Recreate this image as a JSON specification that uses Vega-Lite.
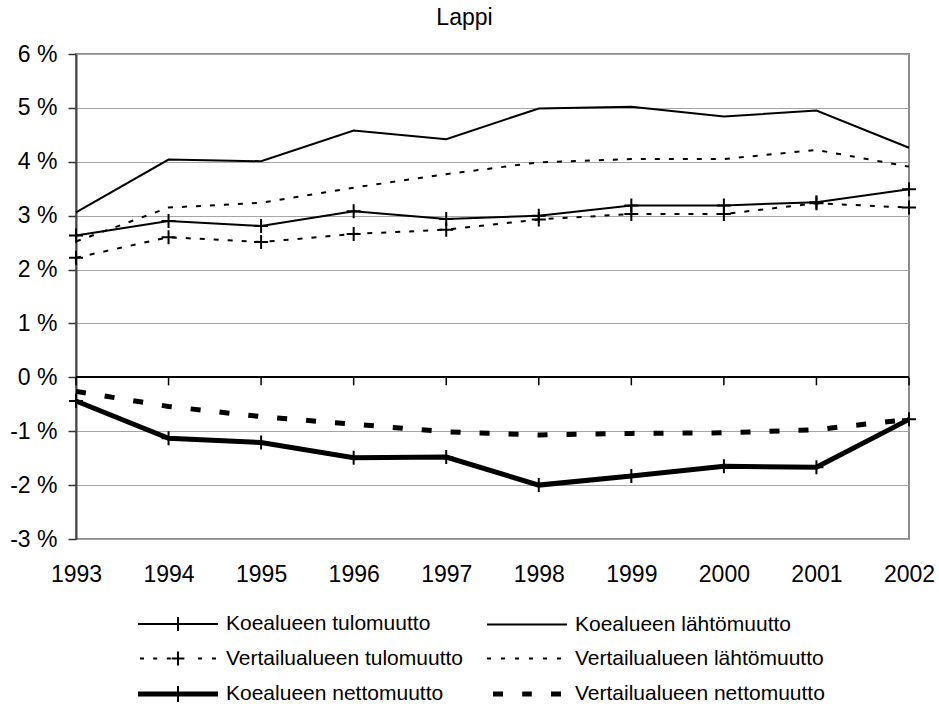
{
  "$schema": "https://vega.github.io/schema/vega-lite/v6.json",
  "width": 833,
  "height": 485,
  "autosize": {"type": "none"},
  "padding": {"left": 76, "top": 54, "right": 30, "bottom": 165},
  "background": "white",
  "title": {"text": "Lappi", "fontSize": 23, "font": "Liberation Sans", "fontWeight": "normal", "color": "black", "anchor": "middle", "dx": -28, "offset": 13},
  "config": {"view": {"stroke": "#8c8c8c", "strokeWidth": 2}, "font": "Liberation Sans"},
  "data": {"values": [
    {"year": 1993, "series": "Koealueen tulomuutto", "value": 2.63},
    {"year": 1994, "series": "Koealueen tulomuutto", "value": 2.90},
    {"year": 1995, "series": "Koealueen tulomuutto", "value": 2.81},
    {"year": 1996, "series": "Koealueen tulomuutto", "value": 3.08},
    {"year": 1997, "series": "Koealueen tulomuutto", "value": 2.94},
    {"year": 1998, "series": "Koealueen tulomuutto", "value": 3.00},
    {"year": 1999, "series": "Koealueen tulomuutto", "value": 3.19},
    {"year": 2000, "series": "Koealueen tulomuutto", "value": 3.19},
    {"year": 2001, "series": "Koealueen tulomuutto", "value": 3.25},
    {"year": 2002, "series": "Koealueen tulomuutto", "value": 3.49},
    {"year": 1993, "series": "Koealueen lähtömuutto", "value": 3.06},
    {"year": 1994, "series": "Koealueen lähtömuutto", "value": 4.04},
    {"year": 1995, "series": "Koealueen lähtömuutto", "value": 4.01},
    {"year": 1996, "series": "Koealueen lähtömuutto", "value": 4.58},
    {"year": 1997, "series": "Koealueen lähtömuutto", "value": 4.42},
    {"year": 1998, "series": "Koealueen lähtömuutto", "value": 4.99},
    {"year": 1999, "series": "Koealueen lähtömuutto", "value": 5.02},
    {"year": 2000, "series": "Koealueen lähtömuutto", "value": 4.84},
    {"year": 2001, "series": "Koealueen lähtömuutto", "value": 4.95},
    {"year": 2002, "series": "Koealueen lähtömuutto", "value": 4.26},
    {"year": 1993, "series": "Vertailualueen tulomuutto", "value": 2.22},
    {"year": 1994, "series": "Vertailualueen tulomuutto", "value": 2.60},
    {"year": 1995, "series": "Vertailualueen tulomuutto", "value": 2.51},
    {"year": 1996, "series": "Vertailualueen tulomuutto", "value": 2.66},
    {"year": 1997, "series": "Vertailualueen tulomuutto", "value": 2.74},
    {"year": 1998, "series": "Vertailualueen tulomuutto", "value": 2.93},
    {"year": 1999, "series": "Vertailualueen tulomuutto", "value": 3.03},
    {"year": 2000, "series": "Vertailualueen tulomuutto", "value": 3.03},
    {"year": 2001, "series": "Vertailualueen tulomuutto", "value": 3.23},
    {"year": 2002, "series": "Vertailualueen tulomuutto", "value": 3.15},
    {"year": 1993, "series": "Vertailualueen lähtömuutto", "value": 2.52},
    {"year": 1994, "series": "Vertailualueen lähtömuutto", "value": 3.15},
    {"year": 1995, "series": "Vertailualueen lähtömuutto", "value": 3.24},
    {"year": 1996, "series": "Vertailualueen lähtömuutto", "value": 3.52},
    {"year": 1997, "series": "Vertailualueen lähtömuutto", "value": 3.77},
    {"year": 1998, "series": "Vertailualueen lähtömuutto", "value": 3.99},
    {"year": 1999, "series": "Vertailualueen lähtömuutto", "value": 4.05},
    {"year": 2000, "series": "Vertailualueen lähtömuutto", "value": 4.05},
    {"year": 2001, "series": "Vertailualueen lähtömuutto", "value": 4.22},
    {"year": 2002, "series": "Vertailualueen lähtömuutto", "value": 3.91},
    {"year": 1993, "series": "Koealueen nettomuutto", "value": -0.44},
    {"year": 1994, "series": "Koealueen nettomuutto", "value": -1.13},
    {"year": 1995, "series": "Koealueen nettomuutto", "value": -1.21},
    {"year": 1996, "series": "Koealueen nettomuutto", "value": -1.49},
    {"year": 1997, "series": "Koealueen nettomuutto", "value": -1.48},
    {"year": 1998, "series": "Koealueen nettomuutto", "value": -2.00},
    {"year": 1999, "series": "Koealueen nettomuutto", "value": -1.83},
    {"year": 2000, "series": "Koealueen nettomuutto", "value": -1.65},
    {"year": 2001, "series": "Koealueen nettomuutto", "value": -1.67},
    {"year": 2002, "series": "Koealueen nettomuutto", "value": -0.78},
    {"year": 1993, "series": "Vertailualueen nettomuutto", "value": -0.26},
    {"year": 1994, "series": "Vertailualueen nettomuutto", "value": -0.54},
    {"year": 1995, "series": "Vertailualueen nettomuutto", "value": -0.73},
    {"year": 1996, "series": "Vertailualueen nettomuutto", "value": -0.87},
    {"year": 1997, "series": "Vertailualueen nettomuutto", "value": -1.01},
    {"year": 1998, "series": "Vertailualueen nettomuutto", "value": -1.07},
    {"year": 1999, "series": "Vertailualueen nettomuutto", "value": -1.04},
    {"year": 2000, "series": "Vertailualueen nettomuutto", "value": -1.03},
    {"year": 2001, "series": "Vertailualueen nettomuutto", "value": -0.97},
    {"year": 2002, "series": "Vertailualueen nettomuutto", "value": -0.78}
  ]},
  "layer": [
    {
      "mark": {"type": "line", "color": "black", "strokeWidth": 2},
      "transform": [{"filter": {"field": "series", "oneOf": ["Koealueen tulomuutto", "Koealueen lähtömuutto"]}}],
      "encoding": {
        "x": {"field": "year", "type": "quantitative", "scale": {"domain": [1993, 2002], "nice": false, "zero": false},
          "axis": {"values": [1993, 1994, 1995, 1996, 1997, 1998, 1999, 2000, 2001, 2002], "format": "d", "ticks": false, "domain": false, "grid": false, "labelFontSize": 23, "labelColor": "black", "labelPadding": 24, "title": null, "labelFlush": false, "labelOverlap": false, "labelBound": false}},
        "y": {"field": "value", "type": "quantitative", "scale": {"domain": [-3, 6], "nice": false, "zero": false},
          "axis": {"values": [-3, -2, -1, 0, 1, 2, 3, 4, 5, 6], "labelExpr": "datum.value + ' %'", "title": null, "tickSize": 8, "tickColor": "#333333", "tickWidth": 1.5, "domainColor": "#444444", "domainWidth": 2, "gridColor": "#a6a6a6", "gridWidth": 1, "labelFontSize": 23, "labelPadding": 11, "labelColor": "black", "labelOverlap": false}},
        "detail": {"field": "series", "type": "nominal"}
      }
    },
    {
      "mark": {"type": "line", "color": "black", "strokeWidth": 2, "strokeDash": [5, 9]},
      "transform": [{"filter": {"field": "series", "oneOf": ["Vertailualueen tulomuutto", "Vertailualueen lähtömuutto"]}}],
      "encoding": {
        "x": {"field": "year", "type": "quantitative"},
        "y": {"field": "value", "type": "quantitative"},
        "detail": {"field": "series", "type": "nominal"}
      }
    },
    {
      "mark": {"type": "rule", "color": "black", "strokeWidth": 1.5},
      "encoding": {"y": {"datum": 0, "type": "quantitative"}}
    },
    {
      "mark": {"type": "rule", "color": "black", "strokeWidth": 1.5},
      "transform": [{"filter": {"field": "series", "equal": "Koealueen tulomuutto"}}],
      "encoding": {
        "x": {"field": "year", "type": "quantitative"},
        "y": {"datum": 0, "type": "quantitative"},
        "y2": {"datum": -0.148}
      }
    },
    {
      "mark": {"type": "line", "color": "black", "strokeWidth": 5},
      "transform": [{"filter": {"field": "series", "equal": "Koealueen nettomuutto"}}],
      "encoding": {
        "x": {"field": "year", "type": "quantitative"},
        "y": {"field": "value", "type": "quantitative"}
      }
    },
    {
      "mark": {"type": "line", "color": "black", "strokeWidth": 5, "strokeDash": [10, 19]},
      "transform": [{"filter": {"field": "series", "equal": "Vertailualueen nettomuutto"}}],
      "encoding": {
        "x": {"field": "year", "type": "quantitative"},
        "y": {"field": "value", "type": "quantitative"}
      }
    },
    {
      "mark": {"type": "point", "shape": "M-1,0H1M0,-1V1", "filled": false, "size": 196, "strokeWidth": 2, "color": "black", "opacity": 1},
      "transform": [{"filter": {"field": "series", "oneOf": ["Koealueen tulomuutto", "Vertailualueen tulomuutto", "Koealueen nettomuutto"]}}],
      "encoding": {
        "x": {"field": "year", "type": "quantitative"},
        "y": {"field": "value", "type": "quantitative"}
      }
    },
    {
      "data": {"values": []},
      "mark": {"type": "point", "filled": false, "strokeWidth": 2, "color": "black", "opacity": 1},
      "encoding": {
        "shape": {"field": "series", "type": "nominal",
          "scale": {
            "domain": ["Koealueen tulomuutto", "Vertailualueen tulomuutto", "Koealueen nettomuutto", "Koealueen lähtömuutto", "Vertailualueen lähtömuutto", "Vertailualueen nettomuutto"],
            "range": [
              "M-4,0H4M0,-0.7V0.7",
              "M-3.8,0H-3.4M-2.48,0H-2.08M-1.12,0H-0.72M-0.64,0H0.64M0,-0.7V0.7M2,0H2.4M3.4,0H3.8",
              "M-4,-0.15H4M-4,0H4M-4,0.15H4M0,-0.8V0.8",
              "M-4,0H4",
              "M-4,0H-3.6M-2.6,0H-2.2M-1.2,0H-0.8M0.2,0H0.6M1.6,0H2M3,0H3.4",
              "M-3.4,-0.15H-2.4M-3.4,0H-2.4M-3.4,0.15H-2.4M-0.48,-0.15H0.48M-0.48,0H0.48M-0.48,0.15H0.48M2.4,-0.15H3.4M2.4,0H3.4M2.4,0.15H3.4"
            ]
          },
          "legend": {"title": null, "orient": "none", "direction": "vertical", "legendX": 62, "legendY": 559, "columns": 2, "symbolSize": 400, "symbolOffset": 29, "symbolStrokeWidth": 2, "symbolStrokeColor": "black", "symbolFillColor": "transparent", "symbolOpacity": 1, "labelFontSize": 21, "labelFont": "Liberation Sans", "labelColor": "black", "labelLimit": 500, "labelAlign": "left", "labelOffset": 37, "rowPadding": 12.5, "columnPadding": 20, "padding": 0}
        }
      }
    }
  ]
}
